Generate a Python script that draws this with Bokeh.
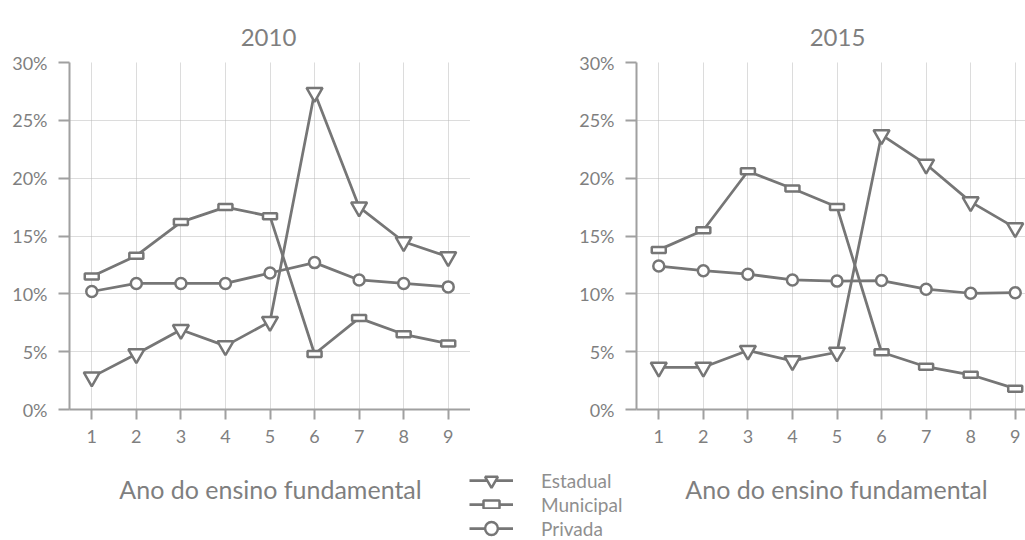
from bokeh.plotting import figure
from bokeh.layouts import row, column
from bokeh.models import Range1d, FixedTicker, PrintfTickFormatter, Legend, LegendItem, Label
from bokeh.embed import file_html
from bokeh.resources import INLINE

# ---- data (percent of students per school year) ----
anos = [1, 2, 3, 4, 5, 6, 7, 8, 9]
y_ticks = [0, 5, 10, 15, 20, 25, 30]
series_names = ["Estadual", "Municipal", "Privada"]
titles = ["2010", "2015"]
x_title = "Ano do ensino fundamental"

estadual_2010 = [2.8, 4.8, 6.9, 5.5, 7.6, 27.4, 17.5, 14.5, 13.2]
municipal_2010 = [11.5, 13.3, 16.2, 17.5, 16.7, 4.8, 7.9, 6.5, 5.7]
privada_2010 = [10.2, 10.9, 10.9, 10.9, 11.8, 12.7, 11.2, 10.9, 10.6]

estadual_2015 = [3.65, 3.65, 5.1, 4.2, 4.95, 23.75, 21.2, 17.95, 15.7]
municipal_2015 = [13.8, 15.5, 20.6, 19.1, 17.5, 4.95, 3.7, 3.0, 1.8]
privada_2015 = [12.4, 12.0, 11.7, 11.2, 11.1, 11.15, 10.4, 10.05, 10.1]

FONT = "Lato"
TEXT = "#7f7f7f"
LEG_TEXT = "#8f8f8f"
LINE = "#767676"
AXIS = "#a0a0a0"
GRID = "#b8b8b8"
PX_PER_YEAR = 401 / 9.0
W = 1025
TOP_H = 51
MID_H = 411
BOT_H = 78
NAN = float("nan")


def draw_series(p, est, mun, pri):
    for s in (est, mun, pri):
        p.line(anos, s, line_color=LINE, line_width=2.75)
    p.scatter(anos, est, marker="inverted_triangle", size=16, fill_color="white",
              line_color=LINE, line_width=2.5)
    p.rect(anos, mun, width=14, height=6, width_units="screen", height_units="screen",
           fill_color="white", line_color=LINE, line_width=2.5)
    p.scatter(anos, pri, marker="circle", size=11, fill_color="white",
              line_color=LINE, line_width=2.5)


def make_panel(est, mun, pri, width, border_left, frame_w):
    x_end = 0.5 + frame_w / PX_PER_YEAR
    p = figure(width=width, height=MID_H, x_range=Range1d(0.5, x_end), y_range=Range1d(0, 30),
               output_backend="svg", toolbar_location=None, tools="",
               min_border_left=border_left, min_border_right=0,
               min_border_top=62 - TOP_H, min_border_bottom=TOP_H + MID_H - 409)
    p.outline_line_color = None
    for ax in (p.xaxis, p.yaxis):
        ax.axis_line_color = AXIS
        ax.axis_line_width = 2
        ax.major_tick_line_color = AXIS
        ax.major_tick_line_width = 2
        ax.minor_tick_line_color = None
        ax.major_tick_in = 0
        ax.major_label_text_font = FONT
        ax.major_label_text_font_size = "18px"
        ax.major_label_text_color = TEXT
    p.xaxis.ticker = FixedTicker(ticks=anos)
    p.xaxis.major_tick_out = 10
    p.xaxis.major_label_standoff = 10
    p.yaxis.ticker = FixedTicker(ticks=y_ticks)
    p.yaxis.formatter = PrintfTickFormatter(format="%d%%")
    p.yaxis.major_tick_out = 11
    p.yaxis.major_label_standoff = 11
    p.xgrid.ticker = FixedTicker(ticks=anos)
    p.ygrid.ticker = FixedTicker(ticks=y_ticks)
    for g in (p.xgrid, p.ygrid):
        g.grid_line_color = GRID
        g.grid_line_dash = "1 1"
        g.grid_line_width = 1
    draw_series(p, est, mun, pri)
    return p


def strip(height):
    s = figure(width=W, height=height, x_range=Range1d(0, W), y_range=Range1d(height, 0),
               output_backend="svg", toolbar_location=None, tools="",
               x_axis_type=None, y_axis_type=None, min_border=0)
    s.grid.visible = False
    s.outline_line_color = None
    return s


left = make_panel(estadual_2010, municipal_2010, privada_2010, width=470, border_left=69, frame_w=401)
right = make_panel(estadual_2015, municipal_2015, privada_2015, width=555, border_left=166, frame_w=389)

# titles strip
top = strip(TOP_H)
for t, cx in zip(titles, (268, 837)):
    top.add_layout(Label(x=cx, y=37, text=t, text_align="center", text_baseline="alphabetic",
                         text_font=FONT, text_font_size="24px", text_color=TEXT))

# axis titles + legend strip
bottom = strip(BOT_H)
for cx in (270, 836):
    bottom.add_layout(Label(x=cx, y=26, text=x_title, text_align="center", text_baseline="alphabetic",
                            text_font=FONT, text_font_size="25px", text_color=TEXT))

# legend-only renderers (a single NaN row each, so nothing is drawn in the strip)
lg_lines = [bottom.line(x=[NAN], y=[NAN], line_color=LINE, line_width=2.75) for _ in range(3)]
lg_e = bottom.scatter(x=[NAN], y=[NAN], marker="inverted_triangle", fill_color="white",
                      line_color=LINE, line_width=2.5)
lg_m = bottom.rect(x=[NAN], y=[NAN], width=1, height=1, fill_color="white",
                   line_color=LINE, line_width=2.5)
lg_p = bottom.scatter(x=[NAN], y=[NAN], marker="circle", fill_color="white",
                      line_color=LINE, line_width=2.5)

row_renderers = [[lg_lines[0], lg_e], [lg_lines[1]], [lg_lines[2], lg_p]]
row_offsets = [44, 20, -4]  # legend rows 24px apart
for name, rends, vy in zip(series_names, row_renderers, row_offsets):
    bottom.add_layout(Legend(items=[LegendItem(label=name, renderers=rends)],
                             location=(469, vy), orientation="vertical",
                             glyph_width=44, glyph_height=32, spacing=0, padding=0, margin=0,
                             label_standoff=28, label_text_font=FONT, label_text_font_size="19px",
                             label_text_color=LEG_TEXT, background_fill_alpha=0,
                             border_line_alpha=0))
bottom.add_layout(Legend(items=[LegendItem(label=" ", renderers=[lg_m])],
                         location=(481, 31), orientation="vertical",
                         glyph_width=20, glyph_height=10, spacing=0, padding=0, margin=0,
                         label_standoff=0, label_height=10, label_width=0,
                         label_text_font_size="1px", background_fill_alpha=0,
                         border_line_alpha=0))

layout = column(top, row(left, right), bottom)
open("out.html", "w").write(file_html(layout, INLINE))
